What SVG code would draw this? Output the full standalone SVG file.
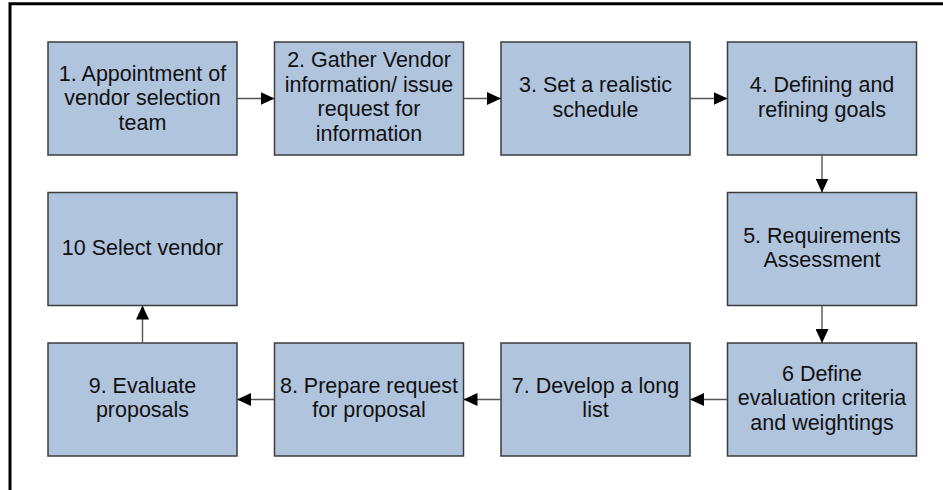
<svg xmlns="http://www.w3.org/2000/svg" width="943" height="490" viewBox="0 0 943 490">
  <defs>
    <marker id="arrow" markerWidth="14" markerHeight="13" refX="14" refY="6.5" orient="auto" markerUnits="userSpaceOnUse">
      <path d="M0,0 L14,6.5 L0,13 Z" fill="#000"/>
    </marker>
    <style>
      .box { fill: #b0c4de; stroke: #3c3c3c; stroke-width: 1.5; }
      .lbl { font-family: "Liberation Sans", Arial, sans-serif; font-size: 21.5px; fill: #111; text-anchor: middle; }
      .conn { stroke: #555; stroke-width: 1.4; fill: none; marker-end: url(#arrow); }
      .frame { stroke: #000; stroke-width: 3; fill: none; }
    </style>
  </defs>

  <rect width="943" height="490" fill="#fff"/>
  <!-- page frame (top and left edges) -->
  <path class="frame" d="M10,490 V3.7 H943"/>

  <g id="node1">
    <rect class="box" x="48" y="42" width="189" height="113"/>
    <text class="lbl" x="142.5" y="80.5">1. Appointment of</text>
    <text class="lbl" x="142.5" y="105">vendor selection</text>
    <text class="lbl" x="142.5" y="129.5">team</text>
  </g>
  <g id="node2">
    <rect class="box" x="274.5" y="42" width="189" height="113"/>
    <text class="lbl" x="369" y="67">2. Gather Vendor</text>
    <text class="lbl" x="369" y="91.5">information/ issue</text>
    <text class="lbl" x="369" y="116">request for</text>
    <text class="lbl" x="369" y="140.5">information</text>
  </g>
  <g id="node3">
    <rect class="box" x="501" y="42" width="189" height="113"/>
    <text class="lbl" x="595.5" y="92">3. Set a realistic</text>
    <text class="lbl" x="595.5" y="116.5">schedule</text>
  </g>
  <g id="node4">
    <rect class="box" x="727.5" y="42" width="189" height="113"/>
    <text class="lbl" x="822" y="92">4. Defining and</text>
    <text class="lbl" x="822" y="116.5">refining goals</text>
  </g>
  <g id="node5">
    <rect class="box" x="727.5" y="192.5" width="189" height="113"/>
    <text class="lbl" x="822" y="242.5">5. Requirements</text>
    <text class="lbl" x="822" y="267">Assessment</text>
  </g>
  <g id="node6">
    <rect class="box" x="727.5" y="343" width="189" height="113"/>
    <text class="lbl" x="822" y="380.5">6 Define</text>
    <text class="lbl" x="822" y="405">evaluation criteria</text>
    <text class="lbl" x="822" y="429.5">and weightings</text>
  </g>
  <g id="node7">
    <rect class="box" x="501" y="343" width="189" height="113"/>
    <text class="lbl" x="595.5" y="392.5">7. Develop a long</text>
    <text class="lbl" x="595.5" y="417">list</text>
  </g>
  <g id="node8">
    <rect class="box" x="274.5" y="343" width="189" height="113"/>
    <text class="lbl" x="369" y="392.5">8. Prepare request</text>
    <text class="lbl" x="369" y="417">for proposal</text>
  </g>
  <g id="node9">
    <rect class="box" x="48" y="343" width="189" height="113"/>
    <text class="lbl" x="142.5" y="392.5">9. Evaluate</text>
    <text class="lbl" x="142.5" y="417">proposals</text>
  </g>
  <g id="node10">
    <rect class="box" x="48" y="192.5" width="189" height="113"/>
    <text class="lbl" x="142.5" y="254.5">10 Select vendor</text>
  </g>

  <g id="connectors">
    <line class="conn" x1="237" y1="98.5" x2="274.5" y2="98.5"/>
    <line class="conn" x1="463.5" y1="98.5" x2="501" y2="98.5"/>
    <line class="conn" x1="690" y1="98.5" x2="727.5" y2="98.5"/>
    <line class="conn" x1="822" y1="155" x2="822" y2="192.5"/>
    <line class="conn" x1="822" y1="305.5" x2="822" y2="343"/>
    <line class="conn" x1="727.5" y1="399.5" x2="690" y2="399.5"/>
    <line class="conn" x1="501" y1="399.5" x2="463.5" y2="399.5"/>
    <line class="conn" x1="274.5" y1="399.5" x2="237" y2="399.5"/>
    <line class="conn" x1="142.5" y1="343" x2="142.5" y2="305.5"/>
  </g>
</svg>
